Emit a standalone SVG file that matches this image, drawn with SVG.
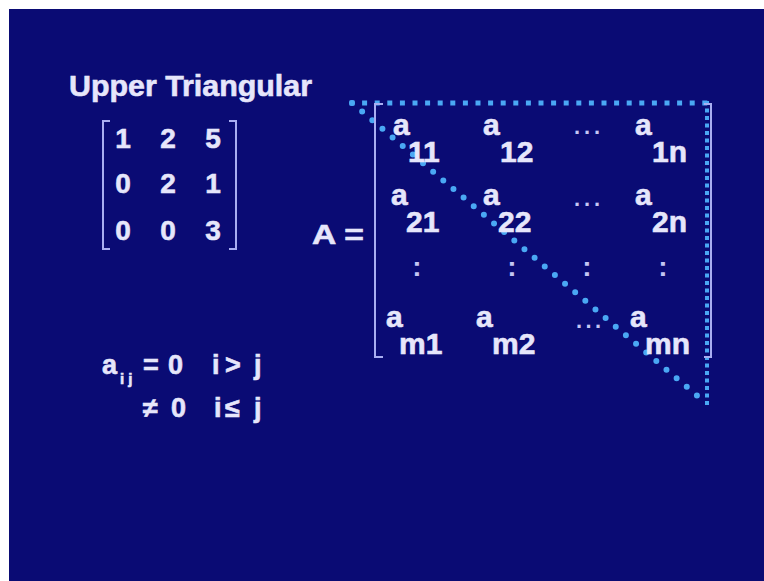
<svg xmlns="http://www.w3.org/2000/svg" width="764" height="581" viewBox="0 0 764 581">
<style>
.t{font-family:"Liberation Sans",Arial,sans-serif;font-weight:bold;fill:#e6e6fb;stroke:#e6e6fb;stroke-width:0.6}
.br{fill:none;stroke:#a9aef2;stroke-width:2}
.dim{font-family:"Liberation Sans",Arial,sans-serif;font-weight:bold;fill:#c4c6f4}
</style>
<rect width="764" height="581" fill="#ffffff"/>
<rect x="9" y="9" width="755" height="572" fill="#0a0b74"/>
<g id="title"><text class="t" x="69" y="96" font-size="30" textLength="243" lengthAdjust="spacingAndGlyphs">Upper Triangular</text></g>
<g id="example-matrix">
<path class="br" d="M110,121 H103 V249 H110"/>
<path class="br" d="M229,121 H236 V249 H229"/>
<g class="t" font-size="28" text-anchor="middle">
<text x="123" y="148">1</text><text x="168" y="148">2</text><text x="213" y="148">5</text>
<text x="123" y="193">0</text><text x="168" y="193">2</text><text x="213" y="193">1</text>
<text x="123" y="240">0</text><text x="168" y="240">0</text><text x="213" y="240">3</text>
</g>
</g>
<g id="triangle" fill="none" stroke="#4aa8f4">
<line x1="352" y1="103" x2="706" y2="103" stroke-width="5" stroke-dasharray="0 12.6" stroke-linecap="square"/>
<line x1="707" y1="103" x2="707" y2="404" stroke-width="4" stroke-dasharray="0 7.5" stroke-linecap="square"/>
<line x1="352" y1="103" x2="707" y2="404" stroke-width="6" stroke-dasharray="0 13.3" stroke-linecap="round"/>
</g>
<g id="matrix-A">
<text class="t" x="312" y="244" font-size="28" textLength="52" lengthAdjust="spacingAndGlyphs">A =</text>
<path class="br" d="M383,104 H375 V357 H383"/>
<path class="br" d="M704,104 H711 V357 H704"/>
<g class="t" font-size="30">
<text x="393" y="135">a</text><text x="408" y="162">11</text>
<text x="483" y="135">a</text><text x="500" y="162">12</text>
<text x="635" y="135">a</text><text x="652" y="162">1n</text>
<text x="391" y="205">a</text><text x="406" y="232">21</text>
<text x="483" y="205">a</text><text x="498" y="232">22</text>
<text x="635" y="205">a</text><text x="652" y="232">2n</text>
<text x="386" y="327">a</text><text x="399" y="354">m1</text>
<text x="476" y="327">a</text><text x="492" y="354">m2</text>
<text x="630" y="327">a</text><text x="645" y="354">mn</text>
</g>
<g class="dim" font-size="22">
<text x="574" y="134" textLength="26" lengthAdjust="spacing">...</text>
<text x="574" y="206" textLength="26" lengthAdjust="spacing">...</text>
<text x="576" y="328" textLength="25" lengthAdjust="spacing">...</text>
</g>
<g class="dim" font-size="28" text-anchor="middle">
<text x="417" y="276">:</text><text x="512" y="276">:</text><text x="587" y="276">:</text><text x="663" y="276">:</text>
</g>
</g>
<g id="condition" class="t" font-size="27">
<text x="102" y="374">a</text>
<text x="120" y="384" font-size="15">i j</text>
<text x="143" y="374">=</text>
<text x="168" y="374">0</text>
<text x="212" y="374">i</text>
<text x="225" y="374">&gt;</text>
<text x="254" y="374">j</text>
<text x="143" y="417">≠</text>
<text x="171" y="417">0</text>
<text x="214" y="417">i</text>
<text x="225" y="417">≤</text>
<text x="254" y="417">j</text>
</g>
</svg>
